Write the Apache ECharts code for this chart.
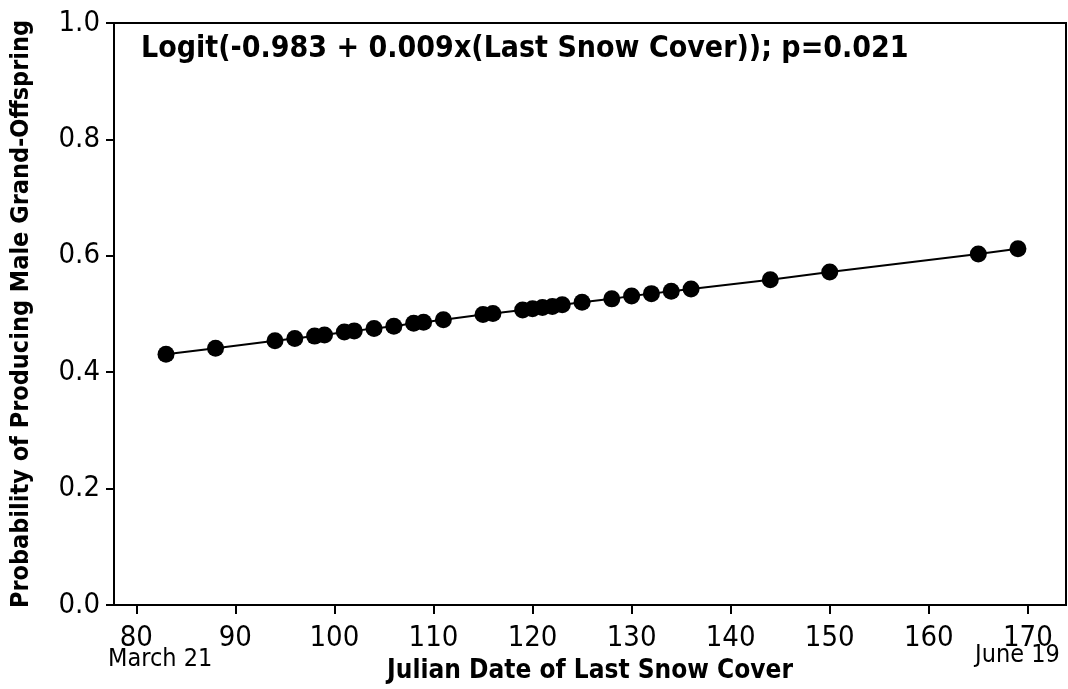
<!DOCTYPE html>
<html>
<head>
<meta charset="utf-8">
<title>Last Snow Cover and Male Grand-Offspring</title>
<script src="https://cdn.jsdelivr.net/npm/echarts@6/dist/echarts.min.js"></script>
<style>
  html, body { margin: 0; padding: 0; background: #fff; }
  #chart { width: 1068px; height: 689px; }
</style>
</head>
<body>
<div id="chart"></div>
<script>
// Julian date of last snow cover for each site
const snowDates = [83, 88, 94, 96, 98, 99, 101, 102, 104, 106, 108, 109, 111, 115, 116,
  119, 120, 121, 122, 123, 125, 128, 130, 132, 134, 136, 144, 150, 165, 169];
// Fitted probability of producing male grand-offspring at each date
const maleProb = [0.431, 0.441, 0.454, 0.458, 0.462, 0.464, 0.469, 0.471, 0.475, 0.479,
  0.484, 0.486, 0.490, 0.499, 0.501, 0.507, 0.509, 0.511, 0.513, 0.516, 0.520, 0.526,
  0.531, 0.535, 0.539, 0.543, 0.559, 0.572, 0.603, 0.612];
const xTicks = [80, 90, 100, 110, 120, 130, 140, 150, 160, 170];
const modelText = 'Logit(-0.983 + 0.009x(Last Snow Cover)); p=0.021';
const xTitle = 'Julian Date of Last Snow Cover';
const yTitle = 'Probability of Producing Male Grand-Offspring';
const startDateLabel = 'March 21';
const endDateLabel = 'June 19';

const FONT = '"DejaVu Sans Condensed", "DejaVu Sans", sans-serif';
const chart = echarts.init(document.getElementById('chart'), null, { renderer: 'canvas' });

chart.setOption({
  animation: false,
  backgroundColor: '#ffffff',
  title: {
    text: modelText,
    left: 136,
    top: 29,
    textStyle: { fontFamily: FONT, fontSize: 30, fontWeight: 'bold', color: '#000' }
  },
  grid: {
    left: 114, right: 2, top: 23, bottom: 83,
    show: true, borderColor: '#000', borderWidth: 2, backgroundColor: 'transparent'
  },
  xAxis: {
    type: 'value',
    min: 77.75,
    max: 173.85,
    name: xTitle,
    nameLocation: 'middle',
    nameGap: 53,
    nameTextStyle: { fontFamily: FONT, fontSize: 26, fontWeight: 'bold', color: '#000' },
    splitLine: { show: false },
    axisLine: { show: true, lineStyle: { color: '#000', width: 2 } },
    axisTick: { show: true, length: 9, inside: false, lineStyle: { color: '#000', width: 2 },
      customValues: xTicks },
    axisLabel: { fontFamily: FONT, fontSize: 29, color: '#000', margin: 19,
      customValues: xTicks, formatter: v => String(v) }
  },
  yAxis: {
    type: 'value',
    min: 0,
    max: 1,
    interval: 0.2,
    name: yTitle,
    nameLocation: 'middle',
    nameGap: 80,
    nameTextStyle: { fontFamily: FONT, fontSize: 25, fontWeight: 'bold', color: '#000' },
    splitLine: { show: false },
    axisLine: { show: true, lineStyle: { color: '#000', width: 2 } },
    axisTick: { show: true, length: 8, inside: false, lineStyle: { color: '#000', width: 2 } },
    axisLabel: { fontFamily: FONT, fontSize: 29, color: '#000', margin: 14,
      formatter: v => v.toFixed(1) }
  },
  graphic: [
    { type: 'text', left: 108, top: 647,
      style: { text: startDateLabel, fontFamily: FONT, fontSize: 25, fill: '#000' } },
    { type: 'text', left: 975, top: 643,
      style: { text: endDateLabel, fontFamily: FONT, fontSize: 25, fill: '#000' } }
  ],
  series: [{
    type: 'line',
    data: snowDates.map((d, i) => [d, maleProb[i]]),
    symbol: 'circle',
    symbolSize: 17,
    showAllSymbol: true,
    itemStyle: { color: '#000' },
    lineStyle: { color: '#000', width: 2 },
    z: 3
  }]
});
</script>
</body>
</html>
